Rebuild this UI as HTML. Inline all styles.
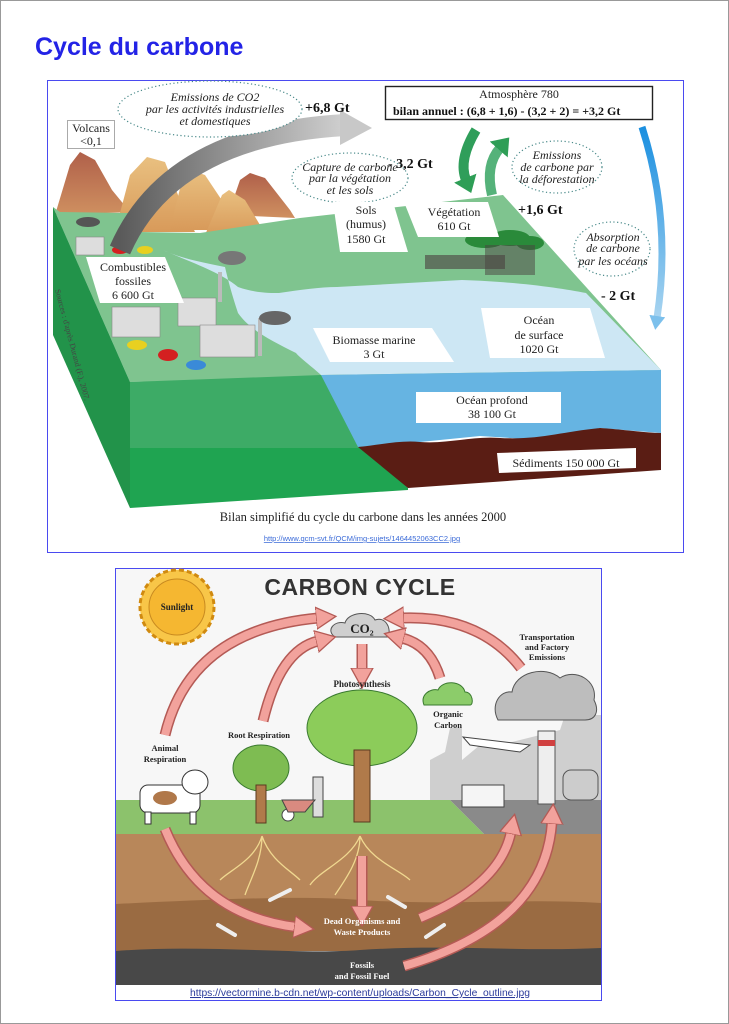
<!DOCTYPE html>
<html><head><meta charset="utf-8"><style>
html,body{margin:0;padding:0;background:#fff;}
body{width:729px;height:1024px;overflow:hidden;position:relative;}
svg{position:absolute;left:0;top:0;}
.s{font-family:"Liberation Serif",serif;}
.b{font-family:"Liberation Serif",serif;font-weight:bold;}
</style></head><body>
<svg width="729" height="1024" viewBox="0 0 729 1024" xmlns="http://www.w3.org/2000/svg">
<defs>
<linearGradient id="mt" x1="0" y1="0" x2="0" y2="1"><stop offset="0" stop-color="#b0604a"/><stop offset="1" stop-color="#cf9060"/></linearGradient>
<linearGradient id="mt2" x1="0" y1="0" x2="0" y2="1"><stop offset="0" stop-color="#e9c080"/><stop offset="1" stop-color="#d89a5a"/></linearGradient>
<linearGradient id="gr" x1="0" y1="0" x2="1" y2="0"><stop offset="0" stop-color="#5a5a5a"/><stop offset="1" stop-color="#d0d0d0"/></linearGradient>
<linearGradient id="bl" x1="0" y1="0" x2="0" y2="1"><stop offset="0" stop-color="#1a8fe0"/><stop offset="1" stop-color="#a8d4f0"/></linearGradient>
<marker id="ah" markerUnits="userSpaceOnUse" markerWidth="30" markerHeight="30" refX="2" refY="12" orient="auto">
<polygon points="0,1 20,12 0,23" fill="#f2a29c" stroke="#b45a55" stroke-width="1.3"/></marker>
<marker id="gh" markerUnits="userSpaceOnUse" markerWidth="30" markerHeight="30" refX="2" refY="12" orient="auto">
<polygon points="0,0 16,12 0,24" fill="#2e9e56"/></marker>
<marker id="bh" markerUnits="userSpaceOnUse" markerWidth="30" markerHeight="30" refX="2" refY="8" orient="auto">
<polygon points="0,0 14,8 0,16" fill="#7cc0ec"/></marker>
</defs>
<rect x="0.5" y="0.5" width="728" height="1023" fill="none" stroke="#999"/>
<text x="35" y="55" font-family="Liberation Sans,sans-serif" font-weight="bold" font-size="25" fill="#2323e6">Cycle du carbone</text>

<!-- TOP IMAGE -->
<rect x="47.5" y="80.5" width="636" height="472" fill="#fff" stroke="#4a4af0"/>
<!-- mountains -->
<polygon points="55,215 70,165 80,152 95,160 112,190 130,212" fill="url(#mt)"/>
<polygon points="115,232 130,175 147,157 165,162 180,200 195,232" fill="url(#mt2)"/>
<polygon points="170,230 182,180 190,170 205,175 225,205 230,230" fill="url(#mt2)"/>
<polygon points="228,215 240,180 250,173 265,178 290,210 295,218" fill="url(#mt)"/>
<polygon points="205,235 222,195 229,190 245,200 266,235" fill="url(#mt2)"/>
<!-- top surface -->
<polygon points="53,207 60,212 130,213 140,232 200,233 300,218 503,195 661,370 130,382" fill="#7fc48f"/>
<!-- ocean top -->
<path d="M163,250 C190,262 220,272 238,287 C255,293 270,293 279,293 C300,290 320,287 337,287 L462,280 C520,282 560,288 586,293 L661,370 L321,375 C310,365 300,358 296,353 C270,340 250,330 238,313 C232,295 228,280 225,267 C200,262 180,258 163,250Z" fill="#cde7f4"/>
<!-- left side -->
<polygon points="53,207 130,382 130,508 53,335" fill="#22934a"/>
<!-- front faces -->
<polygon points="130,382 321,375 365,448 130,448" fill="#3dab66"/>
<polygon points="130,448 365,448 408,488 408,490 130,508" fill="#1fa451"/>
<polygon points="321,375 661,370 661,433 600,428 540,440 480,436 420,442 358,447" fill="#66b4e2"/>
<path d="M358,447 C380,445 400,440 420,442 C450,444 470,436 500,438 C540,440 560,432 600,428 C630,430 645,433 661,433 L661,470 L408,488 Z" fill="#5a1d14"/>
<!-- factories -->
<rect x="76" y="237" width="28" height="18" fill="#ddd" stroke="#888" stroke-width=".6"/>
<rect x="112" y="307" width="48" height="30" fill="#ddd" stroke="#888" stroke-width=".6"/>
<rect x="178" y="298" width="38" height="28" fill="#ddd" stroke="#888" stroke-width=".6"/>
<rect x="200" y="325" width="55" height="32" fill="#ddd" stroke="#888" stroke-width=".6"/>
<rect x="218" y="272" width="4" height="30" fill="#bbb"/><ellipse cx="232" cy="258" rx="14" ry="7" fill="#777"/>
<rect x="258" y="318" width="4" height="38" fill="#bbb"/><ellipse cx="275" cy="318" rx="16" ry="7" fill="#666"/>
<ellipse cx="88" cy="222" rx="12" ry="5" fill="#555"/>
<ellipse cx="137" cy="345" rx="10" ry="5" fill="#e8d020"/><ellipse cx="168" cy="355" rx="10" ry="6" fill="#d42020"/><ellipse cx="196" cy="365" rx="10" ry="5" fill="#3a8ad8"/>
<ellipse cx="120" cy="250" rx="8" ry="4" fill="#d42020"/><ellipse cx="145" cy="250" rx="8" ry="4" fill="#e8d020"/>
<!-- forest -->
<g fill="#2a8a3a"><ellipse cx="485" cy="240" rx="20" ry="8"/><ellipse cx="510" cy="238" rx="20" ry="8"/><ellipse cx="530" cy="243" rx="14" ry="7"/></g>
<g fill="#4a4040"><rect x="425" y="255" width="80" height="14" opacity=".6"/><rect x="485" y="245" width="50" height="30" opacity=".5"/></g>
<!-- gray arrow -->
<path d="M120,250 Q170,135 345,125" fill="none" stroke="url(#gr)" stroke-width="22"/>
<polygon points="340,110 372,128 340,145" fill="#c8c8c8"/>
<!-- blue arrow -->
<path d="M642,127 Q672,220 657,318" fill="none" stroke="url(#bl)" stroke-width="7" marker-end="url(#bh)"/>
<!-- green arrows -->
<path d="M476,130 Q458,160 466,180" fill="none" stroke="#2f9e5a" stroke-width="10" marker-end="url(#gh)"/>
<path d="M492,195 Q485,165 500,148" fill="none" stroke="#55b27a" stroke-width="10" marker-end="url(#gh)"/>
<!-- dotted ellipses -->
<g fill="#fff" stroke="#4a8a8a" stroke-width="1.2" stroke-dasharray="1.2,2.5">
<ellipse cx="210" cy="109" rx="92" ry="28"/>
<ellipse cx="350" cy="178" rx="58" ry="25"/>
<ellipse cx="557" cy="167" rx="45" ry="26"/>
<ellipse cx="612" cy="249" rx="38" ry="27"/>
</g>
<!-- boxes -->
<g fill="#fff">
<rect x="67.5" y="120.5" width="47" height="28" stroke="#aaa"/>
<rect x="385.5" y="86.5" width="267" height="33" stroke="#222" stroke-width="1.4"/>
<polygon points="333,202 393,202 408,252 340,252"/>
<polygon points="404,202 488,202 499,237 418,237"/>
<polygon points="86,257 165,257 184,303 100,303"/>
<polygon points="313,328 432,328 454,362 330,362"/>
<polygon points="481,308 590,308 605,358 490,358"/>
<rect x="416" y="392" width="145" height="31"/>
<polygon points="497,453 636,448 636,468 499,473"/>
</g>
<g class="s" font-size="12" fill="#222" text-anchor="middle">
<text x="91" y="132">Volcans</text><text x="91" y="145">&lt;0,1</text>
<text x="519" y="98">Atmosphère 780</text>
<text x="366" y="214">Sols</text><text x="366" y="228">(humus)</text><text x="366" y="243">1580 Gt</text>
<text x="454" y="216">Végétation</text><text x="454" y="230">610 Gt</text>
<text x="133" y="271">Combustibles</text><text x="133" y="285">fossiles</text><text x="133" y="299">6 600 Gt</text>
<text x="374" y="344">Biomasse marine</text><text x="374" y="358">3 Gt</text>
<text x="539" y="324">Océan</text><text x="539" y="339">de surface</text><text x="539" y="353">1020 Gt</text>
<text x="492" y="404">Océan profond</text><text x="492" y="418">38 100 Gt</text>
<text x="566" y="467">Sédiments 150 000 Gt</text>
<text x="363" y="521" font-size="12.5">Bilan simplifié du cycle du carbone dans les années 2000</text>
</g>
<g class="s" font-size="12" font-style="italic" fill="#222" text-anchor="middle">
<text x="215" y="101">Emissions de CO2</text><text x="215" y="113">par les activités industrielles</text><text x="215" y="125">et domestiques</text>
<text x="350" y="171">Capture de carbone</text><text x="350" y="182">par la végétation</text><text x="350" y="194">et les sols</text>
<text x="557" y="159">Emissions</text><text x="557" y="171">de carbone par</text><text x="557" y="183">la déforestation</text>
<text x="613" y="241">Absorption</text><text x="613" y="252">de carbone</text><text x="613" y="265">par les océans</text>
</g>
<g class="b" font-size="14" fill="#111">
<text x="305" y="112">+6,8 Gt</text>
<text x="388" y="168">- 3,2 Gt</text>
<text x="518" y="214">+1,6 Gt</text>
<text x="601" y="300">- 2 Gt</text>
<text x="393" y="115" font-size="12">bilan annuel : (6,8 + 1,6) - (3,2 + 2) = +3,2 Gt</text>
</g>
<text x="55" y="290" class="s" font-size="8" fill="#444" transform="rotate(75 55 290)">Sources : d'après Durand (F.), 2007.</text>
<text x="362" y="541" font-family="Liberation Sans,sans-serif" font-size="7.5" fill="#3a6ad8" text-anchor="middle" text-decoration="underline">http://www.qcm-svt.fr/QCM/img-sujets/1464452063CC2.jpg</text>

<!-- BOTTOM IMAGE -->
<rect x="115.5" y="568.5" width="486" height="432" fill="#f7f7f7" stroke="#4a4af0"/>
<polygon points="430,800 430,760 445,752 450,728 462,728 462,760 480,745 500,745 560,730 570,700 585,700 595,715 601,715 601,800" fill="#cfcfcf"/>
<polygon points="116,800 450,800 484,834 116,834" fill="#8cc26c"/>
<polygon points="450,800 601,800 601,834 484,834" fill="#8a8a8a"/>
<rect x="116" y="834" width="485" height="70" fill="#b8875a"/>
<path d="M116,904 C200,900 300,895 360,900 C450,906 520,898 601,903 L601,951 L116,951Z" fill="#9a6b42"/>
<path d="M116,951 C200,944 300,955 360,950 C450,944 520,952 601,948 L601,985 L116,985Z" fill="#484848"/>
<rect x="116" y="985" width="485" height="15" fill="#fff"/>
<!-- sun -->
<circle cx="177" cy="607" r="37" fill="#f8c648" stroke="#d08a10" stroke-dasharray="5,3" stroke-width="3"/>
<circle cx="177" cy="607" r="28" fill="#f5b731" stroke="#c88a20" stroke-width="1"/>
<!-- title -->
<text x="360" y="595" font-family="Liberation Sans,sans-serif" font-weight="bold" font-size="23" fill="#333" text-anchor="middle" letter-spacing="0.5">CARBON CYCLE</text>
<!-- clouds -->
<g fill="#cfcfcf" stroke="#555" stroke-width="1">
<path d="M335,637 C325,630 335,620 345,623 C348,612 370,610 375,620 C385,616 392,628 388,637Z"/>
<path d="M498,720 C490,705 500,690 512,692 C515,672 545,665 560,678 C575,668 598,680 594,700 C600,712 595,720 585,720Z" fill="#bdbdbd"/>
<path d="M424,705 C420,695 430,688 438,690 C442,680 462,680 465,692 C473,692 474,705 470,705Z" fill="#8ccc6a" stroke="#3a7a30"/>
</g>
<text x="362" y="633" class="b" font-size="13" fill="#222" text-anchor="middle">CO₂</text>
<!-- trees -->
<ellipse cx="362" cy="728" rx="55" ry="38" fill="#8ccc5a" stroke="#3a7a30"/>
<rect x="354" y="750" width="16" height="72" fill="#b07a4a" stroke="#5a3a20"/>
<ellipse cx="261" cy="768" rx="28" ry="23" fill="#7ebc52" stroke="#3a7a30"/>
<rect x="256" y="785" width="10" height="38" fill="#b07a4a" stroke="#5a3a20"/>
<!-- cow -->
<rect x="140" y="785" width="60" height="28" rx="8" fill="#fff" stroke="#333"/>
<rect x="145" y="812" width="6" height="12" fill="#fff" stroke="#333"/><rect x="190" y="812" width="6" height="12" fill="#fff" stroke="#333"/>
<ellipse cx="195" cy="782" rx="13" ry="12" fill="#fff" stroke="#333"/>
<ellipse cx="165" cy="798" rx="12" ry="7" fill="#b0784a"/>
<!-- farmer & wheelbarrow -->
<rect x="313" y="777" width="10" height="40" fill="#ddd" stroke="#444"/>
<ellipse cx="288" cy="815" rx="6" ry="6" fill="#fff" stroke="#444"/>
<polygon points="282,800 315,800 305,812 288,812" fill="#d98a80" stroke="#444"/>
<!-- factory right -->
<rect x="538" y="731" width="17" height="73" fill="#eee" stroke="#555"/>
<rect x="538" y="740" width="17" height="6" fill="#d04040"/>
<rect x="563" y="770" width="35" height="30" rx="8" fill="#ccc" stroke="#555"/>
<rect x="462" y="785" width="42" height="22" fill="#f5f5f5" stroke="#444"/>
<polygon points="463,737 530,745 520,752 470,745" fill="#fff" stroke="#444"/>
<!-- roots -->
<g stroke="#f0d890" stroke-width="1.3" fill="none">
<path d="M262,836 C255,860 230,870 220,880 M262,836 C270,860 290,870 300,880 M262,836 C262,860 250,880 245,895"/>
<path d="M360,836 C350,860 320,870 310,885 M360,836 C370,860 400,870 410,880 M360,836 C360,860 345,880 335,895"/>
</g>
<!-- bones -->
<g stroke="#eee" stroke-width="4" stroke-linecap="round"><line x1="270" y1="900" x2="290" y2="890"/><line x1="388" y1="897" x2="405" y2="907"/><line x1="218" y1="925" x2="235" y2="935"/><line x1="426" y1="937" x2="444" y2="925"/></g>
<!-- arrows -->
<g fill="none" stroke-linecap="butt">
<g stroke="#b45a55" stroke-width="11">
<path d="M165,735 Q190,630 318,618"/>
<path d="M263,721 Q280,650 318,641"/>
<path d="M362,644 L362,670"/>
<path d="M440,678 Q430,645 402,638"/>
<path d="M521,668 Q480,615 402,618"/>
<path d="M165,829 Q200,915 296,927"/>
<path d="M362,856 L362,908"/>
<path d="M420,918 Q500,885 511,832"/>
<path d="M404,966 Q545,925 552,822"/>
</g>
<g stroke="#f2a29c" stroke-width="8" marker-end="url(#ah)">
<path d="M165,735 Q190,630 318,618"/>
<path d="M263,721 Q280,650 318,641"/>
<path d="M362,644 L362,670"/>
<path d="M440,678 Q430,645 402,638"/>
<path d="M521,668 Q480,615 402,618"/>
<path d="M165,829 Q200,915 296,927"/>
<path d="M362,856 L362,908"/>
<path d="M420,918 Q500,885 511,832"/>
<path d="M404,966 Q545,925 552,822"/>
</g>
</g>
<!-- labels -->
<g class="b" font-size="8.5" fill="#222" text-anchor="middle">
<text x="177" y="610" font-size="9">Sunlight</text>
<text x="547" y="640">Transportation</text><text x="547" y="650">and Factory</text><text x="547" y="660">Emissions</text>
<text x="362" y="687" font-size="9">Photosynthesis</text>
<text x="448" y="717">Organic</text><text x="448" y="728">Carbon</text>
<text x="259" y="738">Root Respiration</text>
<text x="165" y="751">Animal</text><text x="165" y="762">Respiration</text>
</g>
<g class="b" font-size="8.5" fill="#fff" text-anchor="middle">
<text x="362" y="924">Dead Organisms and</text><text x="362" y="935">Waste Products</text>
<text x="362" y="968">Fossils</text><text x="362" y="979">and Fossil Fuel</text>
</g>
<text x="360" y="996" font-family="Liberation Sans,sans-serif" font-size="10.3" fill="#2a3a9a" text-anchor="middle" text-decoration="underline">https://vectormine.b-cdn.net/wp-content/uploads/Carbon_Cycle_outline.jpg</text>
</svg>
</body></html>
